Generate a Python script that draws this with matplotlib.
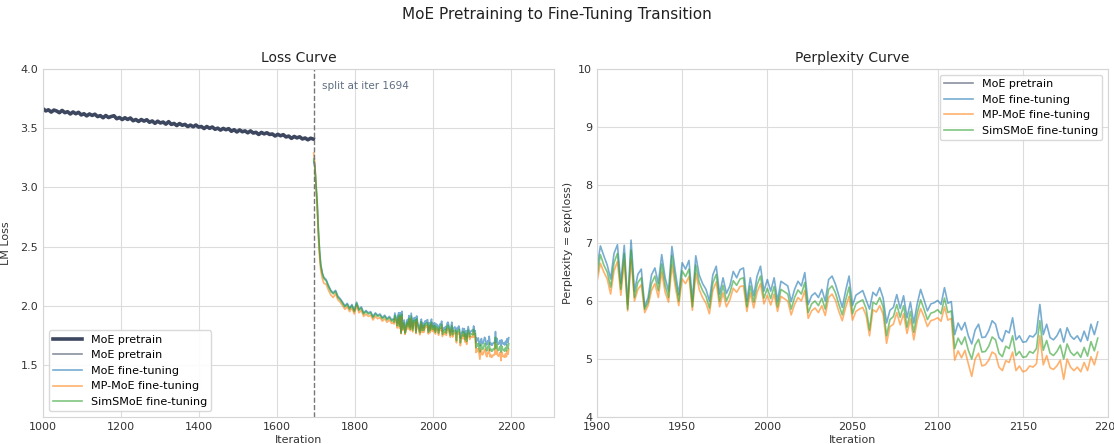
import numpy as np
import matplotlib
matplotlib.use('Agg')
import matplotlib.pyplot as plt

# ---- data ----
split_iter = 1694

# MoE pretrain loss, every 7 iterations from 1000
pre_iters = np.arange(1000, 1700, 7)
pre_loss = [
    3.665, 3.646, 3.655, 3.636, 3.653, 3.645, 3.631, 3.650, 3.631, 3.639,
    3.620, 3.637, 3.622, 3.634, 3.612, 3.622, 3.604, 3.620, 3.608, 3.618,
    3.598, 3.606, 3.588, 3.607, 3.590, 3.599, 3.605, 3.580, 3.590, 3.573,
    3.588, 3.574, 3.586, 3.563, 3.573, 3.557, 3.573, 3.560, 3.571, 3.550,
    3.561, 3.541, 3.559, 3.544, 3.552, 3.534, 3.555, 3.532, 3.540, 3.522,
    3.539, 3.525, 3.532, 3.514, 3.526, 3.512, 3.527, 3.509, 3.514, 3.497,
    3.514, 3.499, 3.510, 3.491, 3.500, 3.484, 3.498, 3.487, 3.496, 3.474,
    3.487, 3.468, 3.485, 3.470, 3.477, 3.461, 3.477, 3.459, 3.465, 3.447,
    3.464, 3.452, 3.461, 3.447, 3.451, 3.434, 3.448, 3.436, 3.445, 3.426,
    3.433, 3.414, 3.430, 3.418, 3.427, 3.409, 3.417, 3.402, 3.415, 3.408,
]

# fine-tuning loss right after the split (1694-1898)
ft_early_iters = [1694, 1697, 1700, 1703, 1706, 1709, 1712, 1716, 1720, 1726,
                  1732, 1738, 1744, 1750, 1756, 1762, 1768, 1774, 1780, 1786,
                  1792, 1798, 1804, 1810, 1816, 1822, 1828, 1834, 1840, 1846,
                  1852, 1858, 1864, 1870, 1876, 1882, 1888, 1894, 1898]
moe_ft_early = [3.22, 3.17, 3.02, 2.87, 2.64, 2.47, 2.35, 2.28, 2.24, 2.22,
                2.17, 2.13, 2.11, 2.13, 2.08, 2.06, 2.03, 2.00, 2.02, 1.98,
                2.01, 1.96, 2.03, 1.97, 1.99, 1.94, 1.96, 1.94, 1.95, 1.91,
                1.94, 1.92, 1.93, 1.90, 1.92, 1.89, 1.91, 1.88, 1.89]
mp_ft_early = [3.29, 3.20, 3.00, 2.82, 2.58, 2.41, 2.30, 2.23, 2.19, 2.18,
               2.13, 2.09, 2.07, 2.10, 2.05, 2.03, 2.00, 1.97, 1.99, 1.95,
               1.98, 1.93, 2.00, 1.94, 1.96, 1.91, 1.93, 1.91, 1.92, 1.88,
               1.91, 1.89, 1.90, 1.87, 1.89, 1.86, 1.88, 1.85, 1.86]
sim_ft_early = [3.24, 3.18, 3.02, 2.86, 2.63, 2.46, 2.34, 2.27, 2.23, 2.21,
                2.16, 2.12, 2.10, 2.12, 2.07, 2.05, 2.02, 1.99, 2.01, 1.97,
                2.00, 1.95, 2.02, 1.96, 1.98, 1.93, 1.95, 1.93, 1.94, 1.90,
                1.93, 1.91, 1.92, 1.89, 1.91, 1.88, 1.90, 1.87, 1.88]

# fine-tuning perplexity, every 2 iterations from 1900
ppl_iters = np.arange(1900, 2196, 2)
moe_ft_ppl = [
    6.57, 6.95, 6.78, 6.62, 6.38, 6.82, 6.97, 6.30, 6.96, 5.94,
    7.05, 6.17, 6.46, 6.55, 5.90, 6.06, 6.45, 6.57, 6.30, 6.80,
    6.40, 6.17, 6.94, 6.50, 6.11, 6.66, 6.55, 6.70, 6.00, 6.78,
    6.45, 6.30, 6.20, 6.00, 6.45, 6.60, 6.12, 6.40, 6.13, 6.26,
    6.51, 6.40, 6.54, 6.57, 6.00, 6.40, 6.09, 6.43, 6.60, 6.17,
    6.37, 6.17, 6.40, 6.00, 6.34, 6.30, 6.26, 5.99, 6.20, 6.34,
    6.26, 6.49, 5.94, 6.09, 6.14, 6.06, 6.20, 6.00, 6.37, 6.43,
    6.29, 6.09, 5.89, 6.18, 6.43, 5.92, 6.10, 6.14, 6.18, 6.02,
    5.86, 6.15, 6.09, 6.23, 6.05, 5.62, 5.84, 5.89, 6.11, 5.87,
    6.09, 5.71, 5.98, 5.62, 5.95, 6.20, 6.02, 5.83, 5.95, 5.97,
    6.01, 5.94, 6.23, 5.96, 5.99, 5.42, 5.62, 5.50, 5.63, 5.40,
    5.26, 5.50, 5.60, 5.37, 5.38, 5.49, 5.66, 5.60, 5.37, 5.30,
    5.49, 5.45, 5.71, 5.33, 5.40, 5.29, 5.30, 5.40, 5.38, 5.45,
    5.94, 5.42, 5.60, 5.37, 5.33, 5.40, 5.52, 5.29, 5.54, 5.40,
    5.34, 5.40, 5.30, 5.48, 5.32, 5.60, 5.42, 5.64,
]
mp_ft_ppl = [
    6.33, 6.65, 6.50, 6.38, 6.12, 6.52, 6.68, 6.10, 6.70, 5.83,
    6.72, 6.00, 6.20, 6.28, 5.80, 5.92, 6.18, 6.30, 6.06, 6.50,
    6.15, 5.98, 6.62, 6.24, 5.92, 6.38, 6.30, 6.42, 5.84, 6.48,
    6.20, 6.06, 5.96, 5.78, 6.18, 6.33, 5.90, 6.14, 5.90, 6.02,
    6.22, 6.15, 6.25, 6.26, 5.82, 6.14, 5.88, 6.15, 6.30, 5.95,
    6.10, 5.93, 6.12, 5.82, 6.08, 6.04, 6.00, 5.76, 5.94, 6.06,
    6.00, 6.18, 5.70, 5.83, 5.88, 5.80, 5.92, 5.75, 6.06, 6.12,
    6.01, 5.82, 5.66, 5.89, 6.08, 5.67, 5.82, 5.86, 5.89, 5.75,
    5.40, 5.85, 5.81, 5.92, 5.77, 5.27, 5.56, 5.60, 5.80, 5.59,
    5.78, 5.44, 5.69, 5.33, 5.66, 5.87, 5.73, 5.56, 5.66, 5.68,
    5.71, 5.65, 5.90, 5.67, 5.70, 4.98, 5.14, 5.02, 5.15, 4.92,
    4.70, 5.00, 5.10, 4.88, 4.90, 4.98, 5.12, 5.08, 4.86, 4.80,
    4.97, 4.94, 5.12, 4.80, 4.88, 4.78, 4.80, 4.88, 4.86, 4.92,
    5.40, 4.90, 5.06, 4.85, 4.82, 4.88, 4.98, 4.65, 5.00, 4.86,
    4.80, 4.86, 4.78, 4.94, 4.80, 5.04, 4.90, 5.12,
]
sim_ft_ppl = [
    6.43, 6.80, 6.62, 6.50, 6.24, 6.66, 6.82, 6.20, 6.82, 5.86,
    6.88, 6.06, 6.32, 6.40, 5.86, 5.98, 6.30, 6.43, 6.18, 6.64,
    6.27, 6.06, 6.78, 6.36, 6.00, 6.52, 6.42, 6.55, 5.90, 6.62,
    6.32, 6.18, 6.08, 5.88, 6.31, 6.46, 6.00, 6.27, 6.00, 6.14,
    6.35, 6.27, 6.38, 6.40, 5.90, 6.26, 5.98, 6.28, 6.43, 6.05,
    6.22, 6.04, 6.25, 5.90, 6.20, 6.16, 6.12, 5.86, 6.06, 6.19,
    6.12, 6.32, 5.80, 5.95, 6.00, 5.92, 6.05, 5.86, 6.20, 6.26,
    6.14, 5.94, 5.76, 6.02, 6.24, 5.78, 5.95, 5.99, 6.02, 5.87,
    5.50, 5.98, 5.94, 6.06, 5.90, 5.40, 5.68, 5.73, 5.94, 5.72,
    5.92, 5.55, 5.82, 5.46, 5.79, 6.02, 5.86, 5.68, 5.79, 5.81,
    5.85, 5.78, 6.05, 5.80, 5.83, 5.18, 5.36, 5.25, 5.38, 5.15,
    5.00, 5.24, 5.34, 5.12, 5.13, 5.22, 5.38, 5.33, 5.10, 5.04,
    5.22, 5.18, 5.40, 5.06, 5.13, 5.03, 5.04, 5.13, 5.10, 5.18,
    5.66, 5.15, 5.32, 5.10, 5.06, 5.13, 5.24, 5.00, 5.26, 5.12,
    5.06, 5.12, 5.03, 5.20, 5.05, 5.30, 5.14, 5.36,
]

# full fine-tuning loss curves
ft_iters = np.concatenate([ft_early_iters, ppl_iters])
ft_loss = {
    'MoE fine-tuning': np.concatenate([moe_ft_early, np.log(moe_ft_ppl)]),
    'MP-MoE fine-tuning': np.concatenate([mp_ft_early, np.log(mp_ft_ppl)]),
    'SimSMoE fine-tuning': np.concatenate([sim_ft_early, np.log(sim_ft_ppl)]),
}
ft_colors = {'MoE fine-tuning': '#1f77b4',
             'MP-MoE fine-tuning': '#ff7f0e',
             'SimSMoE fine-tuning': '#2ca02c'}
pre_color = '#3d4760'

plt.rcParams.update({
    'font.family': 'DejaVu Sans',
    'axes.edgecolor': '#d5d5d5',
    'axes.linewidth': 0.8,
    'grid.color': '#dcdcdc',
    'grid.linewidth': 0.8,
    'xtick.color': '#333333',
    'ytick.color': '#333333',
    'xtick.labelsize': 8,
    'ytick.labelsize': 8,
    'xtick.major.size': 0,
    'ytick.major.size': 0,
    'axes.labelcolor': '#333333',
    'axes.labelsize': 8,
    'axes.titlesize': 10,
    'axes.titlecolor': '#222222',
})

fig = plt.figure(figsize=(11.14, 4.44), dpi=100)
ax1 = fig.add_axes([0.0386, 0.0608, 0.4587, 0.7838])
ax2 = fig.add_axes([0.5359, 0.0608, 0.4587, 0.7838])

# ---- loss panel ----
ax1.plot(pre_iters, pre_loss, color=pre_color, lw=2.6, label='MoE pretrain')
ax1.plot(pre_iters, pre_loss, color=pre_color, lw=1.2, alpha=0.6, label='MoE pretrain')
for name, vals in ft_loss.items():
    ax1.plot(ft_iters, vals, color=ft_colors[name], lw=1.2, alpha=0.6, label=name)
ax1.axvline(split_iter, color='#777777', ls='--', lw=1)
ax1.text(split_iter + 20, 3.9, f'split at iter {split_iter}', color='#5f6e82',
         fontsize=7.5, va='top', ha='left')
ax1.set_xlim(1000, 2310)
ax1.set_ylim(1.06, 4.0)
ax1.set_yticks([1.5, 2.0, 2.5, 3.0, 3.5, 4.0])
ax1.set_xticks([1000, 1200, 1400, 1600, 1800, 2000, 2200])
ax1.grid(True)
ax1.set_axisbelow(True)
ax1.set_title('Loss Curve', pad=5)
ax1.set_xlabel('Iteration', labelpad=2)
ax1.set_ylabel('LM Loss', labelpad=7)
ax1.legend(loc='lower left', fontsize=8, frameon=True, edgecolor='#d5d5d5',
           framealpha=0.9, handlelength=2.6)

# ---- perplexity panel ----
ax2.plot(pre_iters, np.exp(pre_loss), color=pre_color, lw=1.2, alpha=0.6, label='MoE pretrain')
for name, vals in ft_loss.items():
    ax2.plot(ft_iters, np.exp(vals), color=ft_colors[name], lw=1.2, alpha=0.6, label=name)
ax2.set_xlim(1900, 2200)
ax2.set_ylim(4, 10)
ax2.grid(True)
ax2.set_axisbelow(True)
ax2.set_title('Perplexity Curve', pad=5)
ax2.set_xlabel('Iteration', labelpad=2)
ax2.set_ylabel('Perplexity = exp(loss)')
ax2.legend(loc='upper right', fontsize=8, frameon=True, edgecolor='#d5d5d5',
           framealpha=0.9, handlelength=2.6)

fig.suptitle('MoE Pretraining to Fine-Tuning Transition', fontsize=11, y=0.985,
             color='#222222')

fig.savefig('out.png', dpi=100)
